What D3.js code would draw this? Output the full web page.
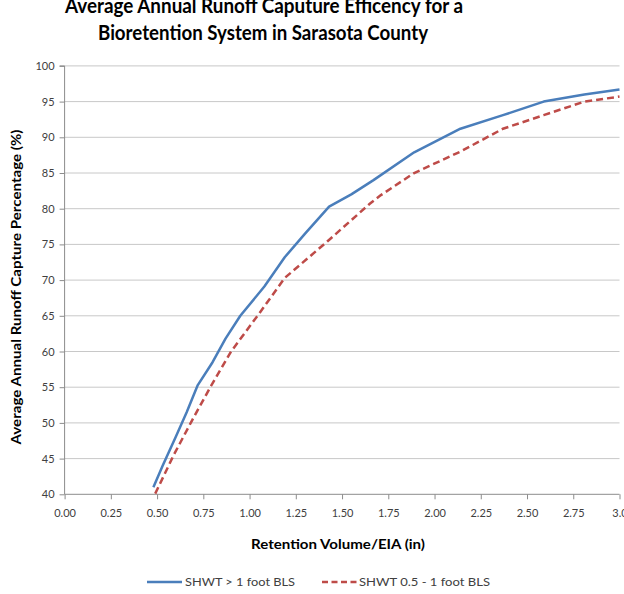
<!DOCTYPE html>
<html><head><meta charset="utf-8">
<script src="https://cdn.jsdelivr.net/npm/d3@7"></script>
<style>body{margin:0;background:#fff}svg{display:block}text{font-family:Lato,"Open Sans",sans-serif}</style>
</head><body><svg id="c" width="624" height="594"></svg>
<script>
const titleLines = ["Average Annual Runoff Caputure Efficency for a", "Bioretention System in Sarasota County"];
const xLabel = "Retention Volume/EIA (in)";
const yLabel = "Average Annual  Runoff Capture Percentage  (%)";
const xTicks = [0, 0.25, 0.5, 0.75, 1.0, 1.25, 1.5, 1.75, 2.0, 2.25, 2.5, 2.75, 3.0];
const xTickLabels = ["0.00","0.25","0.50","0.75","1.00","1.25","1.50","1.75","2.00","2.25","2.50","2.75","3.0"];
const yTicks = [40,45,50,55,60,65,70,75,80,85,90,95,100];
const seriesNames = ["SHWT > 1 foot BLS", "SHWT 0.5 - 1 foot BLS"];
const blueX = [0.48,0.53,0.60,0.66,0.72,0.80,0.87,0.95,1.08,1.19,1.30,1.43,1.55,1.67,1.89,2.14,2.37,2.59,2.81,3.00];
const blueY = [41.0,44.0,48.0,51.5,55.3,58.5,61.8,65.0,69.1,73.2,76.5,80.3,82.0,84.0,87.9,91.2,93.1,95.0,96.0,96.7];
const redX = [0.49,0.59,0.69,0.79,0.90,1.06,1.19,1.42,1.65,1.71,1.89,2.14,2.37,2.59,2.81,3.00];
const redY = [40.1,45.5,50.4,55.1,60.0,65.6,70.3,75.4,80.7,81.9,85.0,88.0,91.2,93.1,95.0,95.7];

const svg = d3.select("#c");
const L = 64.6, R = 619.5, T = 65.9, B = 494.3;
const x = d3.scaleLinear().domain([0,3]).range([L,R]);
const y = d3.scaleLinear().domain([40,100]).range([B,T]);

// gridlines
svg.append("g").selectAll("line").data(yTicks.filter(d=>d>40)).join("line")
  .attr("x1",L).attr("x2",R).attr("y1",d=>y(d)).attr("y2",d=>y(d))
  .attr("stroke","#c8c8c8").attr("stroke-width",1);

// y axis
const ya = svg.append("g").attr("transform",`translate(${L},0)`)
  .call(d3.axisLeft(y).tickValues(yTicks).tickSize(5).tickPadding(5).tickFormat(d3.format("d")));
ya.select(".domain").attr("stroke","#8c8c8c").attr("d",`M-5,${T}H0V${B}`);
ya.selectAll(".tick line").attr("stroke","#8c8c8c");
ya.selectAll("text").attr("font-size",11).attr("fill","#404040").attr("font-family","Lato,sans-serif");

// x axis
const xa = svg.append("g").attr("transform",`translate(0,${B})`)
  .call(d3.axisBottom(x).tickValues(xTicks).tickSize(5).tickPadding(10).tickFormat((d,i)=>xTickLabels[i]));
xa.select(".domain").attr("stroke","#8c8c8c").attr("d",`M${L},0H${R}`);
xa.selectAll(".tick line").attr("stroke","#8c8c8c");
xa.selectAll("text").attr("font-size",11).attr("fill","#404040").attr("font-family","Lato,sans-serif");

// lines
const line = d3.line().x(d=>x(d[0])).y(d=>y(d[1]));
svg.append("path").datum(blueX.map((v,i)=>[v,blueY[i]])).attr("d",line)
  .attr("fill","none").attr("stroke","#4a7ebb").attr("stroke-width",2.5).attr("stroke-linejoin","round");
svg.append("path").datum(redX.map((v,i)=>[v,redY[i]])).attr("d",line)
  .attr("fill","none").attr("stroke","#be4b48").attr("stroke-width",2.5).attr("stroke-dasharray","7,4");

// title (condensed to match reference width)
svg.append("text").attr("x",264).attr("y",13).attr("text-anchor","middle")
  .attr("font-size",20.5).attr("font-weight","bold").attr("fill","#000")
  .attr("textLength",398).attr("lengthAdjust","spacingAndGlyphs").text(titleLines[0]);
svg.append("text").attr("x",263).attr("y",40).attr("text-anchor","middle")
  .attr("font-size",20.5).attr("font-weight","bold").attr("fill","#000")
  .attr("textLength",330).attr("lengthAdjust","spacingAndGlyphs").text(titleLines[1]);

// axis titles
svg.append("text").attr("x",338).attr("y",549).attr("text-anchor","middle")
  .attr("font-size",13).attr("font-weight","bold").attr("fill","#000")
  .attr("textLength",174).attr("lengthAdjust","spacingAndGlyphs").text(xLabel);
svg.append("text").attr("transform","translate(21,287) rotate(-90)").attr("text-anchor","middle")
  .attr("font-size",13).attr("font-weight","bold").attr("fill","#000")
  .attr("textLength",315).attr("lengthAdjust","spacingAndGlyphs").text(yLabel);

// legend
const lg = svg.append("g");
lg.append("line").attr("x1",147).attr("x2",182).attr("y1",582).attr("y2",582)
  .attr("stroke","#4a7ebb").attr("stroke-width",2.5);
lg.append("text").attr("x",185).attr("y",586).attr("font-size",12).attr("fill","#404040")
  .attr("textLength",110).attr("lengthAdjust","spacingAndGlyphs").text(seriesNames[0]);
lg.append("line").attr("x1",322).attr("x2",357).attr("y1",582).attr("y2",582)
  .attr("stroke","#be4b48").attr("stroke-width",2.5).attr("stroke-dasharray","6,3.5");
lg.append("text").attr("x",359).attr("y",586).attr("font-size",12).attr("fill","#404040")
  .attr("textLength",131).attr("lengthAdjust","spacingAndGlyphs").text(seriesNames[1]);
</script></body></html>
